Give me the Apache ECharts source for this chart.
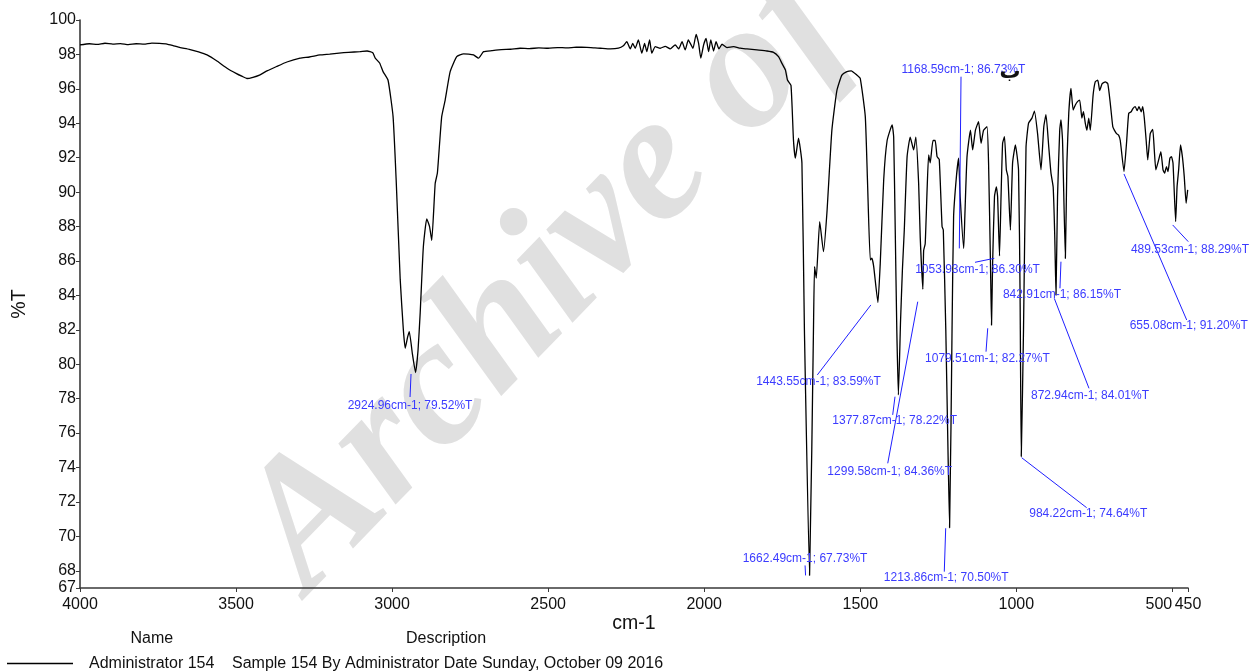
<!DOCTYPE html>
<html>
<head>
<meta charset="utf-8">
<title>IR spectrum - Administrator 154</title>
<script src="https://cdn.jsdelivr.net/npm/echarts@6/dist/echarts.min.js"></script>
<style>
  html, body { margin: 0; padding: 0; background: #ffffff; }
  #chart { width: 1250px; height: 671px; }
</style>
</head>
<body>
<div id="chart"></div>
<script>
// Spectrum: wavenumber (cm-1) and transmittance (%T)
const wavenumbers = [
  4000, 3970, 3945, 3920, 3895, 3870, 3845, 3820, 3795, 3770, 3745, 3721, 3700, 3679, 3650, 3620,
  3593, 3560, 3529, 3500, 3480, 3465, 3446, 3425, 3401, 3370, 3337, 3295, 3265, 3231, 3200, 3170,
  3140, 3103, 3080, 3062, 3054, 3040, 3029, 3013, 2997, 2987, 2974, 2964, 2958, 2950, 2945, 2935,
  2924.96, 2917, 2910, 2900, 2889, 2880, 2873, 2862, 2855, 2848, 2841, 2830, 2814, 2793, 2771, 2755,
  2739, 2723, 2707, 2680, 2650, 2620, 2590, 2560, 2530, 2500, 2470, 2440, 2410, 2376, 2350, 2333,
  2301, 2275, 2259, 2248, 2237, 2229, 2221, 2211, 2200, 2191, 2184, 2175, 2168, 2157, 2141, 2125,
  2109, 2093, 2082, 2071, 2061, 2051, 2036, 2026, 2018, 2011, 2002, 1994, 1986, 1979, 1970, 1962,
  1953, 1943, 1927, 1906, 1885, 1863, 1831, 1799, 1778, 1762, 1751, 1740, 1733, 1722, 1714, 1708,
  1698, 1687, 1679, 1662.49, 1650, 1646.5, 1641, 1630, 1618, 1607, 1591, 1575, 1559, 1543, 1529, 1511,
  1500, 1484, 1477, 1468, 1463, 1457, 1443.55, 1436, 1425, 1414, 1398, 1393, 1388, 1383, 1377.87, 1371,
  1365, 1359, 1350, 1340, 1329, 1322, 1313, 1308, 1299.58, 1297, 1292, 1286, 1281, 1276, 1267, 1260,
  1254, 1247, 1238, 1234, 1226, 1220, 1213.86, 1206, 1201, 1192, 1185, 1180, 1168.59, 1165, 1158, 1147,
  1140, 1131, 1121, 1113, 1105, 1094, 1089, 1083, 1079.51, 1076, 1070, 1064, 1060, 1053.93, 1049, 1044,
  1038, 1032, 1027, 1019, 1012, 1003, 993, 988, 984.22, 977, 969, 961, 950, 942, 932, 921,
  912, 905, 896, 889, 882, 877, 872.94, 868, 861, 857, 852, 842.91, 838, 832, 825, 818,
  811, 804, 797, 790, 785, 779, 774, 768, 763, 754, 747, 739, 733, 725, 715, 707,
  699, 691, 686, 679, 672, 667, 655.08, 647, 640, 632, 626, 619, 613, 607, 600, 595,
  590, 584, 579, 571, 563, 558, 553, 544, 537, 530, 525, 519, 514, 508, 503, 498,
  489.53, 485, 480, 474, 468, 462, 456, 451
];
const transmittance = [
  98.55, 98.62, 98.58, 98.65, 98.60, 98.63, 98.57, 98.62, 98.60, 98.66, 98.64, 98.60, 98.50, 98.40, 98.30, 98.15,
  97.97, 97.60, 97.20, 96.90, 96.72, 96.60, 96.67, 96.80, 97.04, 97.30, 97.56, 97.78, 97.85, 97.97, 98.02, 98.08,
  98.12, 98.16, 98.20, 98.10, 97.78, 97.50, 97.00, 96.50, 94.40, 90.70, 84.90, 82.00, 80.93, 81.60, 81.90, 80.60,
  79.52, 80.80, 83.00, 86.80, 88.45, 88.00, 87.20, 90.50, 91.10, 92.80, 94.40, 95.35, 97.00, 97.87, 98.03, 98.02,
  97.97, 97.78, 98.16, 98.22, 98.28, 98.30, 98.36, 98.34, 98.38, 98.36, 98.40, 98.38, 98.42, 98.41, 98.38, 98.36,
  98.32, 98.36, 98.50, 98.74, 98.32, 98.64, 98.36, 98.84, 98.07, 98.64, 98.16, 98.84, 98.07, 98.45, 98.36, 98.47,
  98.32, 98.55, 98.32, 98.74, 98.26, 98.84, 98.36, 99.17, 98.64, 97.78, 98.55, 98.93, 98.16, 98.84, 98.20, 98.74,
  98.32, 98.59, 98.40, 98.45, 98.36, 98.32, 98.26, 98.20, 98.12, 97.87, 97.48, 97.10, 96.50, 96.20, 93.00, 91.97,
  93.13, 91.70, 82.00, 67.73, 82.00, 85.67, 85.00, 88.29, 86.54, 88.77, 93.60, 95.90, 96.80, 97.00, 97.05, 96.80,
  96.60, 94.40, 90.70, 86.06, 86.16, 85.67, 83.59, 85.87, 90.70, 93.00, 93.90, 93.20, 87.80, 82.00, 78.22, 82.50,
  85.50, 87.80, 92.06, 93.20, 92.45, 93.20, 90.50, 87.40, 84.36, 86.60, 87.00, 90.10, 92.16, 91.70, 93.00, 93.00,
  92.06, 91.90, 88.00, 87.80, 82.00, 76.00, 70.50, 82.00, 88.58, 90.90, 91.97, 89.74, 86.73, 88.58, 92.06, 93.60,
  92.45, 93.60, 94.10, 92.84, 93.60, 93.80, 91.70, 86.00, 82.27, 85.87, 89.74, 90.30, 89.74, 86.30, 89.74, 92.84,
  93.22, 91.29, 90.90, 87.80, 91.70, 92.74, 91.29, 84.00, 74.64, 82.00, 92.60, 94.00, 94.30, 94.70, 93.40, 91.30,
  93.80, 94.50, 92.60, 91.10, 90.30, 87.50, 84.01, 89.74, 93.60, 94.20, 93.00, 86.15, 91.70, 94.60, 96.03, 94.77,
  95.06, 95.26, 95.35, 94.30, 94.67, 94.00, 93.60, 94.30, 93.60, 95.64, 96.42, 96.50, 95.90, 96.30, 96.40, 96.30,
  95.16, 93.80, 93.60, 93.40, 93.30, 93.00, 91.20, 92.84, 94.58, 94.67, 94.87, 94.97, 94.73, 94.97, 94.67, 94.97,
  94.30, 93.00, 91.87, 93.40, 93.65, 92.45, 91.29, 91.87, 92.35, 91.29, 91.10, 91.48, 91.19, 91.97, 92.06, 91.68,
  88.29, 90.32, 91.29, 92.74, 92.06, 90.90, 89.35, 90.13
];

// Picked peaks
const peakWavenumbers = [2924.96, 1662.49, 1443.55, 1377.87, 1299.58, 1213.86, 1168.59, 1079.51, 1053.93, 984.22, 872.94, 842.91, 655.08, 489.53];
const peakTransmittance = [79.52, 67.73, 83.59, 78.22, 84.36, 70.50, 86.73, 82.27, 86.30, 74.64, 84.01, 86.15, 91.20, 88.29];

// Axis ticks
const xTicks = [4000, 3500, 3000, 2500, 2000, 1500, 1000, 500, 450];
const yTicks = [67, 68, 70, 72, 74, 76, 78, 80, 82, 84, 86, 88, 90, 92, 94, 96, 98, 100];

const sampleName = 'Administrator 154';
const sampleDescription = 'Sample 154 By Administrator Date Sunday, October 09 2016';

// Leader-line geometry for each peak label, in pixels relative to the peak:
// [lineStartDx, lineStartDy, lineEndDx, lineEndDy, textCenterDx, textCenterDy]
const leaderLayout = [
  [-4.5, 1.5, -5.5, 24.5, -5.5, 33.5],
  [-4, 0, -4.5, -10, -4.5, -17],
  [-7, 2.5, -60.6, 72.5, -59.4, 79.2],
  [-3.4, 1.8, -5.7, 20, -3.7, 25.8],
  [-5.1, 12.5, -35.1, 174.1, -33.1, 182.5],
  [-3.9, 0.5, -5.3, 43.9, -3.4, 49.5],
  [-4.4, 0, -2.7, -171.7, -0.3, -178.4],
  [-3.8, 3.1, -5.5, 26.5, -4.1, 33.1],
  [-5.2, 2.5, -24.5, 6.5, -22, 13.5],
  [0.4, 1.2, 65.4, 51.2, 67, 56.8],
  [-1.7, 3.1, 33, 93.1, 34, 100.8],
  [-4.4, 3.3, -5.4, 29.9, -3.4, 36.6],
  [0, 2.5, 62.7, 148.5, 64.7, 154.5],
  [-3, 3.4, 12.6, 20.1, 14.3, 27.7]
];

const FONT = '"Liberation Sans", Arial, sans-serif';
const spectrum = wavenumbers.map((w, i) => [w, transmittance[i]]);
const peaks = peakWavenumbers.map((w, i) => [w, peakTransmittance[i]]);

const chart = echarts.init(document.getElementById('chart'), null, { renderer: 'canvas' });

chart.setOption({
  animation: false,
  backgroundColor: '#ffffff',
  grid: { left: 80, right: 62, top: 20, bottom: 83, outerBoundsMode: 'none' },
  xAxis: {
    type: 'value',
    inverse: true,
    min: 450,
    max: 4000,
    name: 'cm-1',
    nameLocation: 'middle',
    nameGap: 26,
    nameMoveOverlap: false,
    nameTextStyle: { fontFamily: FONT, fontSize: 19.5, color: '#111' },
    axisLine: { show: true, lineStyle: { color: '#3a3a3a', width: 1.6 } },
    axisTick: { show: true, length: 4, customValues: xTicks, lineStyle: { color: '#3a3a3a', width: 1 } },
    axisLabel: {
      customValues: xTicks,
      margin: 9,
      fontFamily: FONT,
      fontSize: 16,
      color: '#111',
      formatter: v => (v === 500 ? '{r|500}' : String(v)),
      rich: { r: { fontFamily: FONT, fontSize: 16, color: '#111', padding: [0, 27, 0, 0] } }
    },
    splitLine: { show: false }
  },
  yAxis: {
    type: 'value',
    min: 67,
    max: 100,
    name: '%T',
    nameLocation: 'middle',
    nameRotate: 90,
    nameGap: 50,
    nameTextStyle: { fontFamily: FONT, fontSize: 19.5, color: '#111' },
    axisLine: { show: true, lineStyle: { color: '#3a3a3a', width: 1.6 } },
    axisTick: { show: true, length: 4, customValues: yTicks, lineStyle: { color: '#3a3a3a', width: 1 } },
    axisLabel: { customValues: yTicks, margin: 4, fontFamily: FONT, fontSize: 16, color: '#111' },
    splitLine: { show: false }
  },
  legend: {
    left: 7,
    top: 655.5,
    padding: 0,
    itemWidth: 66,
    itemHeight: 1.4,
    icon: 'rect',
    data: [sampleName],
    selectedMode: false,
    formatter: name => '{p|}{n|' + name + '}{d|' + sampleDescription + '}',
    textStyle: {
      fontFamily: FONT,
      fontSize: 16,
      color: '#111',
      rich: {
        p: { width: 11 },
        n: { width: 143, fontFamily: FONT, fontSize: 16, color: '#111' },
        d: { fontFamily: FONT, fontSize: 16, color: '#111' }
      }
    }
  },
  graphic: [
    {
      type: 'text',
      z: 0,
      silent: true,
      x: 340,
      y: 625,
      rotation: 0.8,
      style: {
        text: 'Archive of',
        font: 'italic bold 182px "Liberation Serif", serif',
        fill: '#e0e0e0',
        align: 'left',
        verticalAlign: 'bottom'
      }
    },
    {
      type: 'text', z: 10, left: 130.5, top: 631,
      style: { text: 'Name', font: '16px ' + FONT, fill: '#111' }
    },
    {
      type: 'text', z: 10, left: 406, top: 631,
      style: { text: 'Description', font: '16px ' + FONT, fill: '#111' }
    },
    {
      type: 'text', z: 12, x: 1010, y: 73,
      style: { text: 'ب', font: 'bold 21px "DejaVu Sans"', fill: '#111', align: 'center', verticalAlign: 'middle' }
    }
  ],
  series: [
    {
      name: sampleName,
      type: 'line',
      data: spectrum,
      z: 5,
      symbol: 'none',
      smooth: 0.15,
      sampling: false,
      color: '#000000',
      lineStyle: { color: '#000000', width: 1.3 },
      clip: false
    },
    {
      name: 'peaks',
      type: 'custom',
      data: peaks,
      z: 8,
      clip: false,
      encode: { x: 0, y: 1 },
      renderItem: (params, api) => {
        const w = api.value(0);
        const t = api.value(1);
        const p = api.coord([w, t]);
        const g = leaderLayout[params.dataIndex];
        return {
          type: 'group',
          children: [
            {
              type: 'line',
              shape: { x1: p[0] + g[0], y1: p[1] + g[1], x2: p[0] + g[2], y2: p[1] + g[3] },
              style: { stroke: '#1f1fff', lineWidth: 1 }
            },
            {
              type: 'text',
              style: {
                x: p[0] + g[4],
                y: p[1] + g[5],
                text: w.toFixed(2) + 'cm-1; ' + t.toFixed(2) + '%T',
                font: '12px ' + FONT,
                fill: '#3b3bff',
                align: 'center',
                verticalAlign: 'middle'
              }
            }
          ]
        };
      }
    }
  ]
});
</script>
</body>
</html>
